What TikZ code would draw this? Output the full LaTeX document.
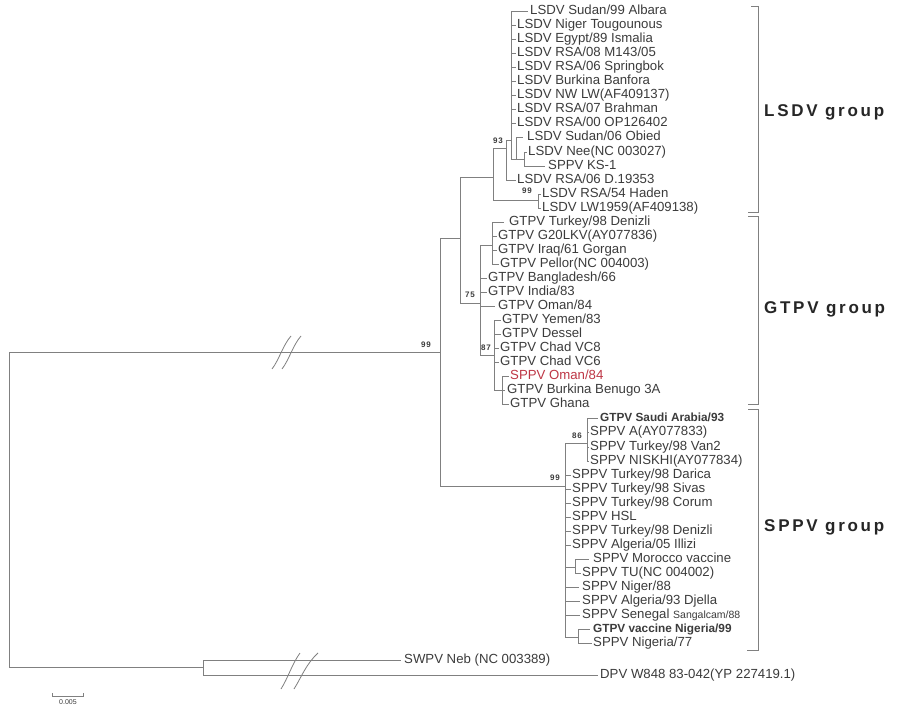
\documentclass[tikz,border=0pt]{standalone}
\usepackage{fontspec}
\setmainfont{Liberation Sans}
\newfontfamily\grpfam[LetterSpace=16]{Liberation Sans}
\newfontfamily\bootfam[LetterSpace=12]{Liberation Sans}
\newcommand\leaffont{\fontsize{13.2}{14}\selectfont}
\newcommand\boldleaffont{\fontsize{11.8}{14}\selectfont\bfseries}
\newcommand\bootfont{\bootfam\fontsize{8}{9}\selectfont\bfseries}
\newcommand\grpfont{\grpfam\fontsize{17}{19}\selectfont\bfseries}
\definecolor{lnc}{RGB}{128,128,128}
\definecolor{txc}{RGB}{60,60,60}
\definecolor{redc}{RGB}{190,55,70}
\tikzset{
  br/.style={draw=lnc, line width=0.75pt},
  brk/.style={draw=lnc, line width=0.75pt},
  mk/.style={draw=lnc, line width=0.8pt},
  leaf/.style={anchor=west, inner sep=1pt, font=\leaffont, text=txc, text height=1.5ex, text depth=.25ex},
  bleaf/.style={leaf, font=\boldleaffont},
  boot/.style={inner sep=0pt, font=\bootfont, text=txc},
  grp/.style={anchor=west, inner sep=0pt, font=\grpfont, text=black!85}
}
\begin{document}
\begin{tikzpicture}[x=1pt,y=-1pt]
\useasboundingbox (0,0) rectangle (899,708);
\clip (0,0) rectangle (899,708);
\fill[white] (0,0) rectangle (899,708);

% internal nodes
\coordinate (root) at (9,510);
\coordinate (R) at (440,352);
\coordinate (LG) at (460,238);
\coordinate (LR) at (493,177);
\coordinate (L93) at (506,148);
\coordinate (L1) at (511,140);
\coordinate (Lx) at (516,159);
\coordinate (LN) at (524,159);
\coordinate (L99) at (538,200);
\coordinate (G75) at (480,303);
\coordinate (GT) at (492,245);
\coordinate (G87) at (494,355);
\coordinate (GS) at (502,390);
\coordinate (S99) at (565,486);
\coordinate (S86) at (587,443);
\coordinate (SMT) at (575,567);
\coordinate (SGN) at (578,637);
\coordinate (O) at (203,667);

% LSDV leaves
\node[leaf] (l0) at (529,11) {LSDV Sudan/99 Albara};
\node[leaf] (l1) at (516,25) {LSDV Niger Tougounous};
\node[leaf] (l2) at (516,39) {LSDV Egypt/89 Ismalia};
\node[leaf] (l3) at (516,53) {LSDV RSA/08 M143/05};
\node[leaf] (l4) at (516,67) {LSDV RSA/06 Springbok};
\node[leaf] (l5) at (516,81) {LSDV Burkina Banfora};
\node[leaf] (l6) at (516,95) {LSDV NW LW(AF409137)};
\node[leaf] (l7) at (516,109) {LSDV RSA/07 Brahman};
\node[leaf] (l8) at (516,123) {LSDV RSA/00 OP126402};
\node[leaf] (l9) at (526,137) {LSDV Sudan/06 Obied};
\node[leaf] (l10) at (527,152) {LSDV Nee(NC 003027)};
\node[leaf] (l11) at (547,166) {SPPV KS-1};
\node[leaf] (l12) at (516,180) {LSDV RSA/06 D.19353};
\node[leaf] (l13) at (541,194) {LSDV RSA/54 Haden};
\node[leaf] (l14) at (541,208) {LSDV LW1959(AF409138)};

% GTPV leaves
\node[leaf] (g0) at (508,222) {GTPV Turkey/98 Denizli};
\node[leaf] (g1) at (497,236) {GTPV G20LKV(AY077836)};
\node[leaf] (g2) at (497,250) {GTPV Iraq/61 Gorgan};
\node[leaf] (g3) at (499,264) {GTPV Pellor(NC 004003)};
\node[leaf] (g4) at (487,278) {GTPV Bangladesh/66};
\node[leaf] (g5) at (487,292) {GTPV India/83};
\node[leaf] (g6) at (497,306) {GTPV Oman/84};
\node[leaf] (g7) at (501,320) {GTPV Yemen/83};
\node[leaf] (g8) at (501,334) {GTPV Dessel};
\node[leaf] (g9) at (499,348) {GTPV Chad VC8};
\node[leaf] (g10) at (499,362) {GTPV Chad VC6};
\node[leaf, text=redc] (g11) at (509,376) {SPPV Oman/84};
\node[leaf] (g12) at (506,390) {GTPV Burkina Benugo 3A};
\node[leaf] (g13) at (509,404) {GTPV Ghana};

% SPPV leaves
\node[bleaf] (s0) at (599,418) {GTPV Saudi Arabia/93};
\node[leaf] (s1) at (589,432) {SPPV A(AY077833)};
\node[leaf] (s2) at (589,447) {SPPV Turkey/98 Van2};
\node[leaf] (s3) at (589,461) {SPPV NISKHI(AY077834)};
\node[leaf] (s4) at (571,475) {SPPV Turkey/98 Darica};
\node[leaf] (s5) at (571,489) {SPPV Turkey/98 Sivas};
\node[leaf] (s6) at (571,503) {SPPV Turkey/98 Corum};
\node[leaf] (s7) at (571,517) {SPPV HSL};
\node[leaf] (s8) at (571,531) {SPPV Turkey/98 Denizli};
\node[leaf] (s9) at (571,545) {SPPV Algeria/05 Illizi};
\node[leaf] (s10) at (592,559) {SPPV Morocco vaccine};
\node[leaf] (s11) at (581,573) {SPPV TU(NC 004002)};
\node[leaf] (s12) at (581,587) {SPPV Niger/88};
\node[leaf] (s13) at (581,601) {SPPV Algeria/93 Djella};
\node[leaf] (s14) at (581,615) {SPPV Senegal {\fontsize{10.5}{12}\selectfont Sangalcam/88}};
\node[bleaf] (s15) at (592,629) {GTPV vaccine Nigeria/99};
\node[leaf] (s16) at (592,643) {SPPV Nigeria/77};

% outgroups
\node[leaf] (o1) at (403,660) {SWPV Neb (NC 003389)};
\node[leaf] (o2) at (599,675) {DPV W848 83-042(YP 227419.1)};

% branches
\draw[br] (root) |- (R);
\draw[br] (root) |- (O);
\draw[br] (R) |- (LG);
\draw[br] (R) |- (S99);
\draw[br] (LG) |- (LR);
\draw[br] (LG) |- (G75);
\draw[br] (LR) |- (L93);
\draw[br] (LR) |- (L99);
\draw[br] (L93) |- (L1);
\draw[br] (L93) |- (l12.west);
\draw[br] (L1) |- ([xshift=-1pt]l0.west);
\foreach \n in {l1,l2,l3,l4,l5,l6,l7,l8} {\draw[br] (L1) |- (\n.west);}
\draw[br] (L1) |- (Lx);
\draw[br] (Lx) |- ([xshift=-3pt]l9.west);
\draw[br] (Lx) |- (LN);
\draw[br] (LN) |- (l10.west);
\draw[br] (LN) |- ([xshift=-2pt]l11.west);
\draw[br] (L99) |- (l13.west);
\draw[br] (L99) |- (l14.west);

\draw[br] (G75) |- (GT);
\draw[br] (GT) |- ([xshift=-4pt]g0.west);
\draw[br] (GT) |- (g1.west);
\draw[br] (GT) |- (g2.west);
\draw[br] (GT) |- (g3.west);
\draw[br] (G75) |- (g4.west);
\draw[br] (G75) |- (g5.west);
\draw[br] (G75) |- ([xshift=-2pt]g6.west);
\draw[br] (G75) |- (G87);
\foreach \n in {g7,g8,g9,g10} {\draw[br] (G87) |- (\n.west);}
\draw[br] (G87) |- (GS);
\draw[br] (GS) |- (g11.west);
\draw[br] (GS) |- ([xshift=-1pt]g12.west);
\draw[br] (GS) |- (g13.west);

\draw[br] (S99) |- (S86);
\draw[br] (S86) |- ([xshift=-1pt]s0.west);
\foreach \n in {s1,s2,s3} {\draw[br] (S86) |- (\n.west);}
\foreach \n in {s4,s5,s6,s7,s8,s9} {\draw[br] (S99) |- (\n.west);}
\draw[br] (S99) |- (SMT);
\draw[br] (SMT) |- ([xshift=-3pt]s10.west);
\draw[br] (SMT) |- (s11.west);
\draw[br] (S99) |- ([xshift=-2pt]s12.west);
\draw[br] (S99) |- ([xshift=-1pt]s13.west);
\draw[br] (S99) |- ([xshift=-1pt]s14.west);
\draw[br] (S99) |- (SGN);
\draw[br] (SGN) |- ([xshift=-2pt]s15.west);
\draw[br] (SGN) |- (s16.west);

\draw[br] (O) |- ([xshift=-2pt]o1.west);
\draw[br] (O) |- ([xshift=-1pt]o2.west);

% break marks
\draw[mk] (272,369) .. controls (279,360) and (283,345) .. (291,336);
\draw[mk] (282,369) .. controls (289,360) and (293,345) .. (301,336);
\draw[mk] (281,689) .. controls (288,678) and (292,664) .. (300,653);
\draw[mk] (294,689) .. controls (301,678) and (306,664) .. (318,653);

% bootstrap values
\node[boot] (b93) at (498,141) {93};
\node[boot] (b99a) at (527,191) {99};
\node[boot] (b75) at (470,295) {75};
\node[boot] (b87) at (486,348) {87};
\node[boot] (b99r) at (426,345) {99};
\node[boot] (b99s) at (555,478) {99};
\node[boot] (b86) at (577,436) {86};

% group brackets
\draw[brk] (751,6) -- (758,6) -- (758,212) -- (748,212);
\draw[brk] (748,216) -- (758,216) -- (758,404) -- (748,404);
\draw[brk] (748,409) -- (758,409) -- (758,650) -- (747,650);
\node[grp] (gL) at (764,112) {LSDV group};
\node[grp] (gG) at (764,309) {GTPV group};
\node[grp] (gS) at (764,527) {SPPV group};

% scale bar
\draw[br] (52,693) -- (52,696) -- (83,696) -- (83,693);
\node[font=\fontsize{7}{8}\selectfont, text=txc, inner sep=0pt] (scl) at (68,702.5) {0.005};
\end{tikzpicture}
\end{document}
